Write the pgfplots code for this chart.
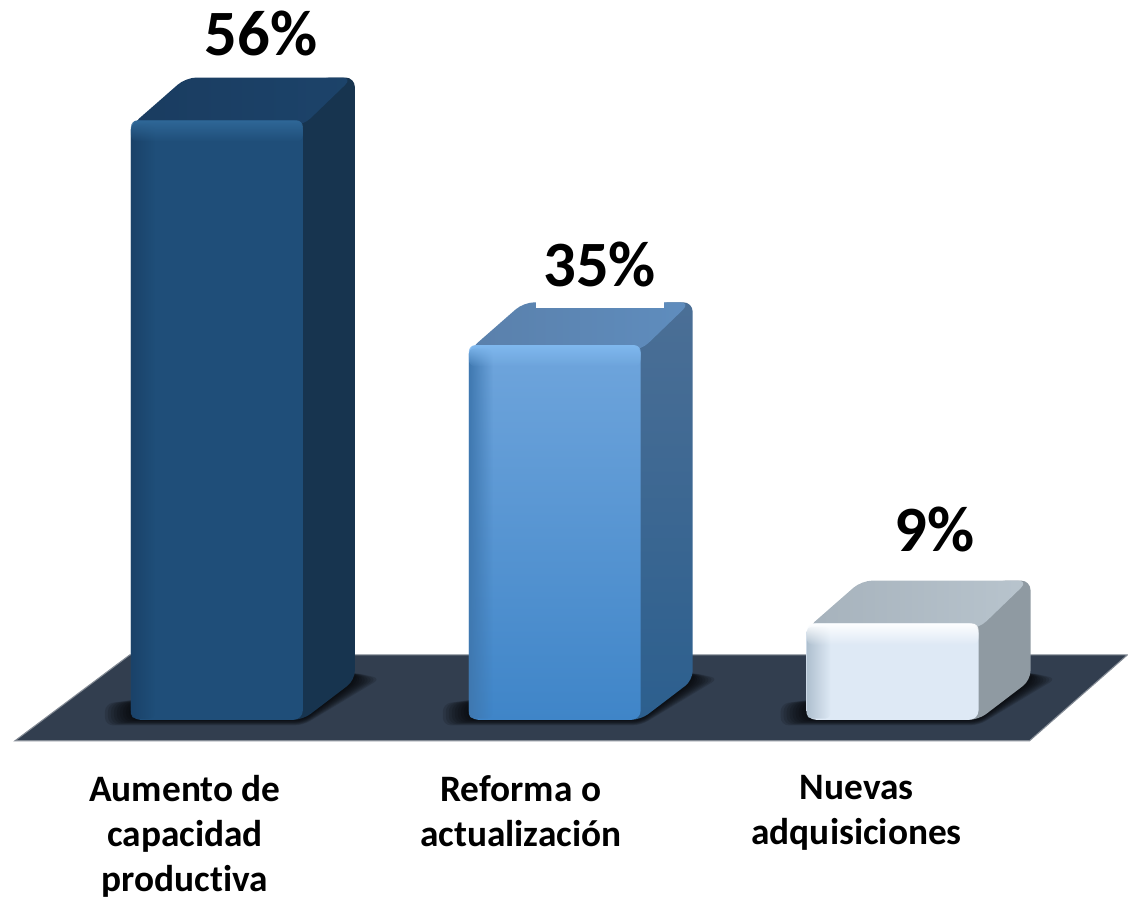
\documentclass[border=0pt]{standalone}
\usepackage{pgfplots}
\pgfplotsset{compat=1.18}
\usetikzlibrary{fadings}
\usepackage{fontspec}
\setmainfont{Carlito}[Ligatures=NoCommon]
\definecolor{floorc}{HTML}{323E4F}
\definecolor{aF}{HTML}{1F4E79}\definecolor{aFb}{HTML}{1F4E79}\definecolor{aT}{HTML}{1A3C60}\definecolor{aTl}{HTML}{1C436A}\definecolor{aS}{HTML}{17344F}\definecolor{aSb}{HTML}{17344F}\definecolor{aH}{HTML}{2F6797}\definecolor{aD}{HTML}{1A4269}
\definecolor{bF}{HTML}{6FA5DC}\definecolor{bFb}{HTML}{3F85C8}\definecolor{bT}{HTML}{5A80AB}\definecolor{bTl}{HTML}{5F8DBE}\definecolor{bS}{HTML}{4B6F96}\definecolor{bSb}{HTML}{2C5F8E}\definecolor{bH}{HTML}{7FB8EE}\definecolor{bD}{HTML}{3F78B0}
\definecolor{cF}{HTML}{DEE9F5}\definecolor{cFb}{HTML}{DEE9F5}\definecolor{cT}{HTML}{A6B2BC}\definecolor{cTl}{HTML}{B8C4CD}\definecolor{cS}{HTML}{8F9AA2}\definecolor{cSb}{HTML}{8F9AA2}\definecolor{cH}{HTML}{FDFEFF}\definecolor{cD}{HTML}{AFC0CF}
\tikzfading[name=ridge,left color=transparent!100,middle color=transparent!0,right color=transparent!100]
\tikzfading[name=fromleft,left color=transparent!0,right color=transparent!100]
\tikzfading[name=fromtop,top color=transparent!0,bottom color=transparent!100]
% #1 left edge (px), #2 depth of the layer
\newcommand{\shadowlayer}[2]{%
  \addplot[draw=none,fill=black,fill opacity=0.13,rounded corners=6pt] coordinates
   {(#1-#2,-0.02*#2) (#1+172,-0.02*#2) (#1+224+#2,3.6+0.01*#2) (#1+224,4.4) (#1+60,2.6) (#1-#2,1.5)} --cycle;}
% #1 left edge (px), #2 value in percent, #3 colour prefix
\newcommand{\threedbar}[3]{%
  \shadowlayer{#1}{26}\shadowlayer{#1}{23}\shadowlayer{#1}{20}\shadowlayer{#1}{17}\shadowlayer{#1}{14}\shadowlayer{#1}{11}\shadowlayer{#1}{8}\shadowlayer{#1}{5}\shadowlayer{#1}{2}
  % side face
  \addplot[draw=none,rounded corners=7pt,bottom color=#3Sb,top color=#3S] coordinates
    {(#1+150,0) (#1+172,0) (#1+224,3.7) (#1+224,#2+4.0) (#1+190,#2+4.0) (#1+150,#2)} --cycle;
  % top face
  \addplot[draw=none,rounded corners=8pt,left color=#3T,middle color=#3T,right color=#3Tl] coordinates
    {(#1,#2-0.5) (#1+55,#2+4.0) (#1+222,#2+4.0) (#1+172,#2-0.5)} --cycle;
  % front face
  \addplot[ybar,bar shift=0pt,bar width=129pt,draw=none,rounded corners=7pt,top color=#3F,bottom color=#3Fb]
    coordinates {(#1+86,#2)};
  % bevels
  \addplot[draw=none,fill=#3D,path fading=fromleft,rounded corners=4pt] coordinates
    {(#1,0.1) (#1+24,0.1) (#1+24,#2-0.3) (#1,#2-0.3)} --cycle;
  \addplot[draw=none,fill=#3H,path fading=ridge,rounded corners=4pt] coordinates
    {(#1+146,0.1) (#1+172,0.1) (#1+172,#2-0.3) (#1+146,#2-0.3)} --cycle;
  \addplot[draw=none,fill=#3H,path fading=fromtop,rounded corners=5pt] coordinates
    {(#1,#2) (#1+172,#2) (#1+172,#2-2.0) (#1,#2-2.0)} --cycle;
}
\begin{document}
\begin{tikzpicture}
\begin{axis}[
  scale only axis, width=846pt, height=672.75pt,
  xmin=0, xmax=1128, ymin=-16.53, ymax=67.23,
  clip=false,
  axis line style={draw=none},
  major tick length=0pt,
  ytick=\empty,
  xtick={185,521,857},
  xticklabels={{Aumento de\\capacidad\\productiva},{Reforma o\\actualización},{Nuevas\\adquisiciones}},
  xticklabel style={align=center,font=\fontsize{28}{33.75}\selectfont\bfseries,inner sep=0pt,yshift=91pt},
]
% floor
\addplot[fill=floorc,draw=floorc!60!white,line width=0.8pt] coordinates
  {(15,-1.96) (1030,-1.96) (1128,6.07) (130,6.07)} --cycle;
\threedbar{131}{56}{a}
\threedbar{469}{35}{b}
\threedbar{807}{9}{c}
% white patch behind the 35% label, on the top edge of the second bar
\addplot[fill=white,draw=none] coordinates
  {(536,38.5) (664,38.5) (664,40.0) (536,40.0)} --cycle;
% value labels
\addplot[draw=none,mark=none,point meta=explicit symbolic,
  nodes near coords,
  nodes near coords align={anchor=center},
  every node near coord/.style={font=\fontsize{48.5}{50}\selectfont\bfseries,text=black,inner sep=0pt}]
  coordinates {(261,64.1)[56\%] (600,42.55)[35\%] (935,17.75)[9\%]};
\end{axis}
\end{tikzpicture}
\end{document}
